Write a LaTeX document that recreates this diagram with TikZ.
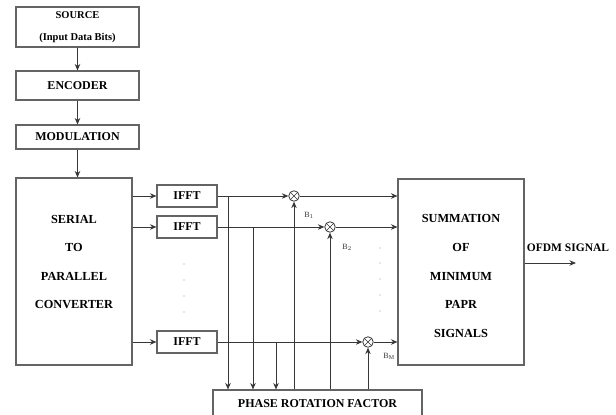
\documentclass[tikz,border=0pt]{standalone}
\usepackage{fontspec}
\setmainfont{Liberation Serif}
\usepackage{tikz}
\usetikzlibrary{shapes,arrows,arrows.meta,positioning,calc}
\definecolor{linegray}{RGB}{55, 55, 55}
\definecolor{boxgray}{RGB}{100, 100, 100}

\begin{document}
\begin{tikzpicture}[x=1pt, y=-1pt]
    % Styles
    \tikzstyle{block} = [draw=boxgray, line width=1.1pt, inner sep=0pt, font=\fontsize{12}{14}\selectfont\bfseries]
    \tikzstyle{bigtext} = [align=center, font=\fontsize{12.3}{28.6}\selectfont\bfseries]
    \tikzstyle{mixer} = [draw=linegray, fill=white, circle, line width=0.8pt, minimum size=10.5pt, inner sep=0pt]
    \tikzstyle{arrow} = [draw=linegray, line width=0.9pt, -{Stealth[length=6.5pt,width=5.5pt]}]
    \tikzstyle{gain} = [font=\fontsize{8}{9}\selectfont, text=linegray]

    \useasboundingbox (0,0) rectangle (616,415);

    % Input chain
    \node[block, minimum width=123pt, minimum height=40pt] (source) at (77.5, 27) {};
    \node[align=center, font=\fontsize{10.5}{22}\selectfont\bfseries] (sourcetext) at (77.5, 27) {SOURCE\\(Input Data Bits)};
    \node[block, minimum width=123pt, minimum height=29pt] (encoder) at (77.5, 85.5) {ENCODER};
    \node[block, minimum width=123pt, minimum height=24pt] (modulation) at (77.5, 137) {MODULATION};

    % Serial to parallel converter
    \node[block, minimum width=116pt, minimum height=187pt] (sp) at (74, 271.5) {};
    \node[bigtext] (sptext) at (74, 262) {SERIAL\\TO\\PARALLEL\\CONVERTER};

    % IFFT branches
    \node[block, minimum width=60pt, minimum height=22pt] (ifft1) at (187, 196) {IFFT};
    \node[block, minimum width=60pt, minimum height=22pt] (ifft2) at (187, 227) {IFFT};
    \node[block, minimum width=60pt, minimum height=22pt] (ifftm) at (187, 342) {IFFT};
    \foreach \y [count=\i] in {264, 280, 296, 312}
        \node[circle, fill=boxgray!70, inner sep=0.5pt] (ldot\i) at (184, \y) {};

    % Mixers
    \node[mixer] (mult1) at (294, 196) {};
    \node[mixer] (mult2) at (330, 227) {};
    \node[mixer] (multm) at (368, 342) {};
    \foreach \m in {mult1, mult2, multm} {
        \draw[linegray, line width=0.6pt] (\m.north east) -- (\m.south west);
        \draw[linegray, line width=0.6pt] (\m.north west) -- (\m.south east);
    }
    \node[gain] (b1) at (309, 215) {B$_1$};
    \node[gain] (b2) at (347, 247) {B$_2$};
    \node[gain] (bm) at (389, 356) {B$_{\mathrm{M}}$};
    \foreach \y [count=\i] in {248, 263, 279, 295, 311}
        \node[circle, fill=boxgray!70, inner sep=0.5pt] (rdot\i) at (380, \y) {};

    % Summation and phase rotation
    \node[block, minimum width=126pt, minimum height=186pt] (summ) at (461, 272) {};
    \node[bigtext] (summtext) at (461, 276) {SUMMATION\\OF\\MINIMUM\\PAPR\\SIGNALS};
    \node[block, minimum width=209pt, minimum height=27pt] (phase) at (317.5, 403.5) {PHASE ROTATION FACTOR};

    % Tap points
    \coordinate (tap1) at (228, 196);
    \coordinate (tap2) at (253, 227);
    \coordinate (tapm) at (276, 342);
    \coordinate (out) at (576, 263);
    \node[font=\fontsize{11.5}{13}\selectfont\bfseries] (outlabel) at (568, 248) {OFDM SIGNAL};

    % Connectors
    \draw[arrow] (source) -- (encoder);
    \draw[arrow] (encoder) -- (modulation);
    \draw[arrow] (modulation.south) -- (modulation.south |- sp.north);
    \draw[arrow] (ifft1 -| sp.east) -- (ifft1.west);
    \draw[arrow] (ifft2 -| sp.east) -- (ifft2.west);
    \draw[arrow] (ifftm -| sp.east) -- (ifftm.west);

    \draw[arrow] (ifft1.east) -- (mult1.west);
    \draw[arrow] (ifft2.east) -- (mult2.west);
    \draw[arrow] (ifftm.east) -- (multm.west);
    \draw[arrow] (tap1) -- (tap1 |- phase.north);
    \draw[arrow] (tap2) -- (tap2 |- phase.north);
    \draw[arrow] (tapm) -- (tapm |- phase.north);

    \draw[arrow] (mult1 |- phase.north) -- (mult1.south);
    \draw[arrow] (mult2 |- phase.north) -- (mult2.south);
    \draw[arrow] (multm |- phase.north) -- (multm.south);

    \draw[arrow] (mult1.east) -- (mult1 -| summ.west);
    \draw[arrow] (mult2.east) -- (mult2 -| summ.west);
    \draw[arrow] (multm.east) -- (multm -| summ.west);
    \draw[arrow] (summ.east |- out) -- (out);
\end{tikzpicture}
\end{document}
